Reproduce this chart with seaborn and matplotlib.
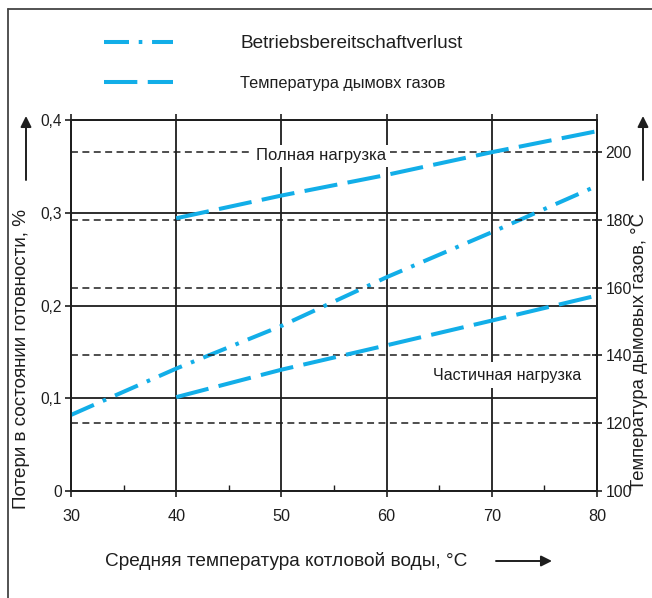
import matplotlib
matplotlib.use("Agg")
import matplotlib.pyplot as plt
from matplotlib.lines import Line2D
from matplotlib.ticker import FixedLocator
import pandas as pd
import seaborn as sns

# Boiler water temperature, °C
water_temp = [30, 40, 50, 60, 70, 80]
# Standby loss, %
standby_loss = [0.082, 0.132, 0.178, 0.2305, 0.279, 0.329]

# Flue gas temperature, °C
gas_temp_x = [40, 50, 60, 70, 80]
gas_full_load = [180.5, 187.2, 193.3, 200.0, 206.2]
gas_part_load = [127.7, 135.8, 143.0, 150.3, 157.7]

x_ticks = [30, 40, 50, 60, 70, 80]
x_minor = [35, 45, 55, 65, 75]
loss_ticks = [0, 0.1, 0.2, 0.3, 0.4]
loss_labels = ["0", "0,1", "0,2", "0,3", "0,4"]
gas_ticks = [100, 120, 140, 160, 180, 200]

legend_labels = ["Betriebsbereitschaftverlust", "Температура дымовх газов"]
x_label = "Средняя температура котловой воды, °C"
y_label = "Потери в состоянии готовности, %"
y2_label = "Температура дымовых газов, °C"
full_text = "Полная нагрузка"
part_text = "Частичная нагрузка"

sns.set_style("ticks")
plt.rcParams["font.family"] = ["Liberation Sans", "DejaVu Sans"]
plt.rcParams["lines.scale_dashes"] = False

BLUE = "#12aee8"
INK = "#1e1e1e"
W, H = 652, 598

fig = plt.figure(figsize=(W / 100, H / 100), dpi=100)
fig.patch.set_facecolor("white")
ax = fig.add_axes([71 / W, 1 - 491 / H, (597 - 71) / W, (491 - 120) / H])
ax2 = ax.twinx()
ax2.patch.set_visible(False)

loss_df = pd.DataFrame({"t": water_temp, "loss": standby_loss})
gas_df = pd.DataFrame({"t": gas_temp_x, "full": gas_full_load, "part": gas_part_load})

dashdot = (0, (18, 7, 2.6, 7))
dashed = (0, (24, 7.5))

sns.lineplot(data=loss_df, x="t", y="loss", ax=ax, color=BLUE, lw=2.9,
             linestyle=dashdot, solid_capstyle="butt", dash_capstyle="butt", zorder=5)
sns.lineplot(data=gas_df, x="t", y="full", ax=ax2, color=BLUE, lw=2.9,
             linestyle=dashed, dash_capstyle="butt", zorder=5)
sns.lineplot(data=gas_df, x="t", y="part", ax=ax2, color=BLUE, lw=2.9,
             linestyle=dashed, dash_capstyle="butt", zorder=5)

ax.set_xlim(30, 80)
ax.set_ylim(0, 0.4)
ax2.set_ylim(100, 209.5)

ax.set_xticks(x_ticks)
ax.set_xticklabels([str(v) for v in x_ticks])
ax.xaxis.set_minor_locator(FixedLocator(x_minor))
ax.set_yticks(loss_ticks)
ax.set_yticklabels(loss_labels)
ax2.set_yticks(gas_ticks)
ax2.set_yticklabels([str(v) for v in gas_ticks])
ax.set_xlabel("")
ax.set_ylabel("")
ax2.set_ylabel("")

# solid grid on the loss scale, dashed grid on the gas-temperature scale
ax.grid(True, which="major", color=INK, lw=1.3, ls="-")
ax.set_axisbelow(True)
ax2.grid(True, axis="y", color=INK, lw=1.1, ls=(0, (5, 3.2)))
ax2.set_axisbelow(True)

for a in (ax, ax2):
    for s in a.spines.values():
        s.set_color(INK)
        s.set_linewidth(1.3)

ax.tick_params(axis="x", which="major", direction="out", length=4, width=1.2,
               colors=INK, labelsize=11.7, pad=9, top=True)
ax.tick_params(axis="x", which="minor", direction="in", length=4.5, width=1.0,
               colors=INK, bottom=True)
ax.tick_params(axis="y", direction="out", length=4, width=1.2, colors=INK,
               labelsize=11.2, pad=2.5)
ax2.tick_params(axis="y", direction="inout", length=7, width=1.2, colors=INK,
                labelsize=11.3, pad=2.5)

ax2.text(47.6, 199.0, full_text, fontsize=12, color=INK, ha="left", va="center",
         zorder=6, bbox=dict(facecolor="white", edgecolor="none", pad=2.5))
ax2.text(64.4, 134.1, part_text, fontsize=11.6, color=INK, ha="left", va="center",
         zorder=6, bbox=dict(facecolor="white", edgecolor="none", pad=4))

# axis titles and direction arrows
fig.text(105 / W, 1 - 561 / H, x_label, fontsize=13.7, color=INK, ha="left", va="center")
fig.text(22 / W, 1 - 359 / H, y_label, fontsize=13.6, color=INK, rotation=90,
         ha="center", va="center")
fig.text(639 / W, 1 - 352 / H, y2_label, fontsize=13.3, color=INK, rotation=90,
         ha="center", va="center")

arrow = dict(arrowstyle="-|>", color=INK, lw=1.4, mutation_scale=16, shrinkA=0, shrinkB=0)
ax.annotate("", xy=(26, H - 116), xytext=(26, H - 180), xycoords="figure pixels",
            textcoords="figure pixels", arrowprops=arrow, annotation_clip=False)
ax.annotate("", xy=(643, H - 116), xytext=(643, H - 180), xycoords="figure pixels",
            textcoords="figure pixels", arrowprops=arrow, annotation_clip=False)
ax.annotate("", xy=(552, H - 561), xytext=(496, H - 561), xycoords="figure pixels",
            textcoords="figure pixels", arrowprops=arrow, annotation_clip=False)

# legend
handles = [ax.lines[0], ax2.lines[0]]
leg = fig.legend(handles, legend_labels, loc="upper left",
                 bbox_to_anchor=(104 / W, 1 - 35 / H), frameon=False,
                 fontsize=13.7, handlelength=3.6, handletextpad=3.55,
                 labelspacing=1.2, borderpad=0, borderaxespad=0)
for t in leg.get_texts():
    t.set_color(INK)
leg.get_texts()[1].set_fontsize(11.7)

# page frame
fig.add_artist(Line2D([8 / W, 8 / W], [0, 1 - 9 / H], transform=fig.transFigure,
                      color="#444444", lw=1.3))
fig.add_artist(Line2D([8 / W, 1], [1 - 9 / H, 1 - 9 / H], transform=fig.transFigure,
                      color="#444444", lw=1.3))

fig.savefig("out.png", dpi=100)
